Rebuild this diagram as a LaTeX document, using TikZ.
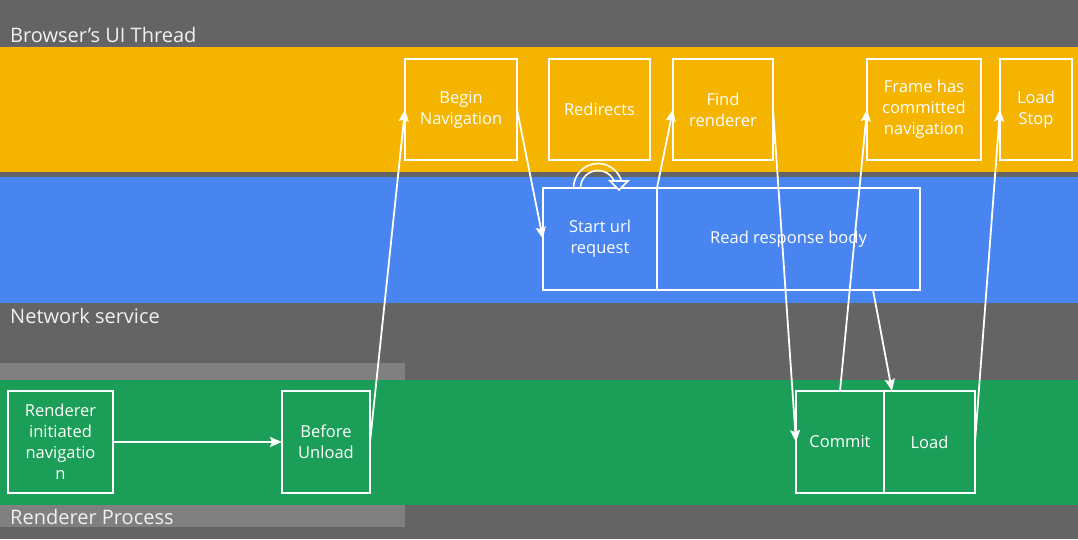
\documentclass[tikz,border=0pt]{standalone}
\usepackage{fontspec}
\setmainfont{Open Sans}
\usetikzlibrary{positioning,arrows.meta,calc}

\definecolor{bggray}{RGB}{100,100,100}
\definecolor{lightbar}{RGB}{128,128,128}
\definecolor{uiyellow}{RGB}{244,180,0}
\definecolor{netblue}{RGB}{72,133,240}
\definecolor{rendgreen}{RGB}{27,158,87}

\begin{document}
\begin{tikzpicture}[x=1pt,y=1pt,
    proc/.style={draw=white,line width=1.9pt,text=white,align=center,
        inner sep=0pt,outer sep=0pt,minimum height=101pt,
        font=\fontsize{16.5}{21}\selectfont},
    lanelabel/.style={anchor=base west,inner sep=0pt,text=white!94!black,
        font=\fontsize{20}{22}\selectfont},
    flow/.style={white,line width=1.8pt,-{Stealth[length=12pt,width=10pt,inset=2pt]}},
    loopline/.style={white,line width=1.6pt}]
    \useasboundingbox (0,0) rectangle (1078,-539);

    % lanes
    \fill[bggray] (0,0) rectangle (1078,-539);
    \foreach \ya/\yb/\col in {47/172/uiyellow,177/303/netblue,380/505/rendgreen} {
        \fill[\col] (0,-\ya) rectangle (1078,-\yb);
    }
    \fill[lightbar] (0,-363) rectangle (405,-380);
    \fill[lightbar] (0,-505) rectangle (405,-527);

    \node[lanelabel] (uilabel) at (10,-42) {Browser's UI Thread};
    \node[lanelabel] (netlabel) at (10,-323) {Network service};
    \node[lanelabel] (rendlabel) at (10,-524) {Renderer Process};

    % browser UI thread
    \node[proc,minimum width=112pt] (beginnav) at (461,-109.5) {Begin\\Navigation};
    \node[proc,minimum width=101pt] (redirects) at (599.5,-109.5) {Redirects};
    \node[proc,minimum width=100pt] (findrend) at (723,-109.5) {Find\\renderer};
    \node[proc,minimum width=114pt] (framecommit) at (924,-109.5) {Frame has\\committed\\navigation};
    \node[proc,minimum width=72pt] (loadstop) at (1036,-109.5) {Load\\Stop};

    % network service
    \node[proc,minimum width=114pt,minimum height=102pt] (starturl) at (600,-239) {Start url\\request};
    \node[proc,minimum width=263pt,minimum height=102pt,right=0pt of starturl] (readbody) {Read response body};

    % renderer process
    \node[proc,minimum width=105pt,minimum height=102pt] (rendinit) at (60.5,-442) {Renderer\\initiated\\navigatio\\n};
    \node[proc,minimum width=88pt,minimum height=102pt] (beforeunload) at (326,-442) {Before\\Unload};
    \node[proc,minimum width=88pt,minimum height=102pt] (commit) at (840,-442) {Commit};
    \node[proc,minimum width=91pt,minimum height=102pt,right=0pt of commit] (load) {Load};

    % redirect loop (double line, hollow head)
    \coordinate (loopstart) at ($(starturl.north west)+(30.5,0)$);
    \coordinate (loopend) at ($(starturl.north west)+(76,-2)$);
    \draw[loopline] (loopstart) arc[start angle=180,end angle=0,radius=24.5];
    \draw[loopline] ($(loopstart)+(7,0)$) arc[start angle=180,end angle=0,radius=17.5];
    \filldraw[loopline,fill=netblue,line join=miter]
        ($(loopend)+(-9,9)$) -- (loopend) -- ($(loopend)+(9,9)$) -- cycle;

    % flow
    \draw[flow] (rendinit) -- (beforeunload);
    \draw[flow] (beforeunload.east) -- (beginnav.west);
    \draw[flow] (beginnav.east) -- (starturl.west);
    \draw[flow] (starturl.north east) -- (findrend.west);
    \draw[flow] (findrend.east) -- (commit.west);
    \draw[flow] (commit.north) -- (framecommit.west);
    \draw[flow] ($(readbody.south east)+(-47,0)$) -- ($(load.north west)+(8,0)$);
    \draw[flow] (load.east) -- (loadstop.west);
\end{tikzpicture}
\end{document}
